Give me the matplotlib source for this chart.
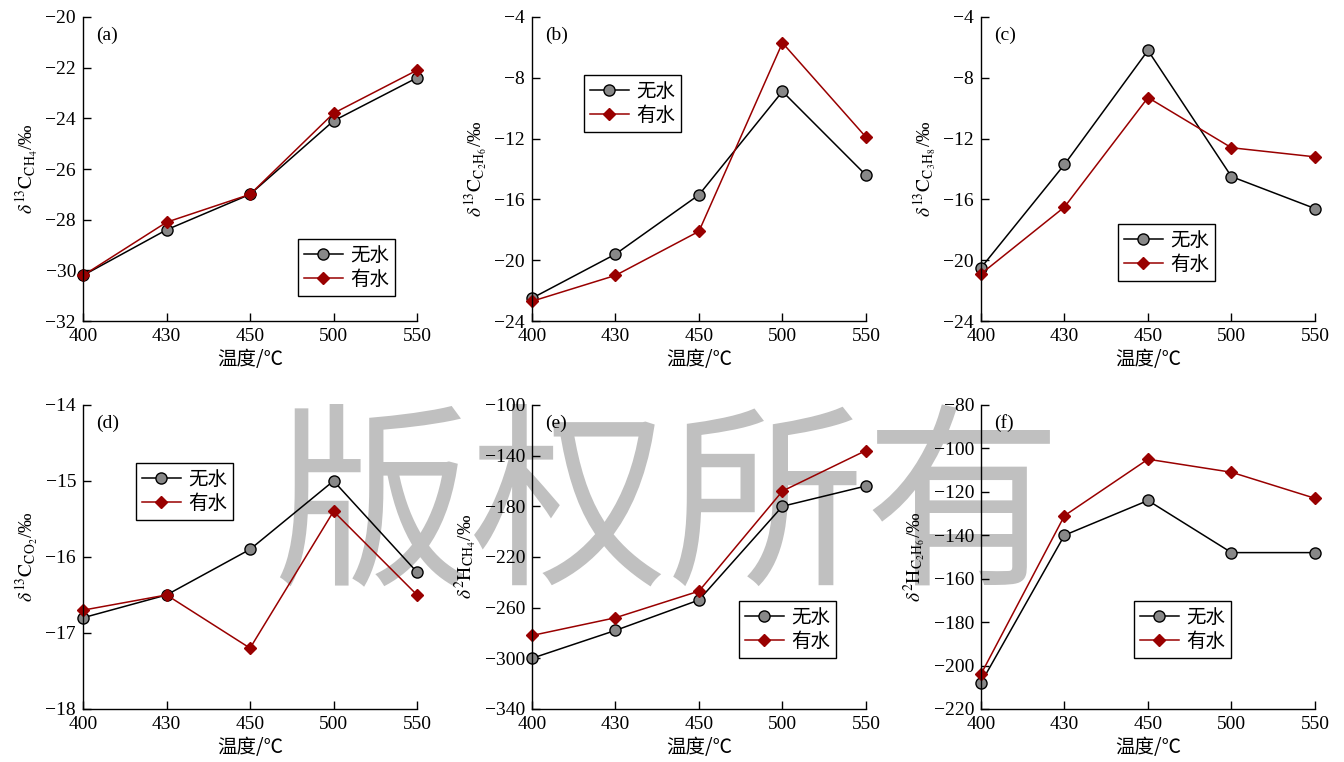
import numpy as np
import matplotlib.pyplot as plt

# -------------------------------
# DATA
# -------------------------------
temps = ['400', '430', '450', '500', '550']

a_dry = [-30.2, -28.4, -27.0, -24.1, -22.4]
a_wet = [-30.2, -28.1, -27.0, -23.8, -22.1]

b_dry = [-22.5, -19.6, -15.7, -8.9, -14.4]
b_wet = [-22.7, -21.0, -18.1, -5.7, -11.9]

c_dry = [-20.5, -13.7, -6.2, -14.5, -16.6]
c_wet = [-20.9, -16.5, -9.3, -12.6, -13.2]

d_dry = [-16.8, -16.5, -15.9, -15.0, -16.2]
d_wet = [-16.7, -16.5, -17.2, -15.4, -16.5]

e_dry = [-300, -278, -254, -180, -164]
e_wet = [-282, -268, -247, -168, -136]

f_dry = [-208, -140, -124, -148, -148]
f_wet = [-204, -131, -105, -111, -123]

ylabels = [
    r'$\delta^{13}\mathrm{C}_{\mathrm{CH_4}}$/‰',
    r'$\delta^{13}\mathrm{C}_{\mathrm{C_2H_6}}$/‰',
    r'$\delta^{13}\mathrm{C}_{\mathrm{C_3H_8}}$/‰',
    r'$\delta^{13}\mathrm{C}_{\mathrm{CO_2}}$/‰',
    r'$\delta^{2}\mathrm{H}_{\mathrm{CH_4}}$/‰',
    r'$\delta^{2}\mathrm{H}_{\mathrm{C_2H_6}}$/‰',
]
panel_tags = ['(a)', '(b)', '(c)', '(d)', '(e)', '(f)']
dry_series = [a_dry, b_dry, c_dry, d_dry, e_dry, f_dry]
wet_series = [a_wet, b_wet, c_wet, d_wet, e_wet, f_wet]
ylims = [(-32, -20, 2), (-24, -4, 4), (-24, -4, 4), (-18, -14, 1), (-340, -100, 40), (-220, -80, 20)]
legend_pos = [(0.644, 0.27), (0.156, 0.809), (0.41, 0.319), (0.159, 0.809), (0.62, 0.355), (0.458, 0.355)]

# -------------------------------
# STYLE
# -------------------------------
plt.rcParams['font.family'] = ['Liberation Serif', 'Noto Sans CJK SC']
plt.rcParams['mathtext.fontset'] = 'stix'
plt.rcParams['axes.unicode_minus'] = True

fig = plt.figure(figsize=(13.44, 7.62), dpi=100)

# watermark behind everything
fig.text(0.497, 0.326, '版权所有', fontsize=142, color='#c0c0c0',
         family='Noto Sans CJK SC', ha='center', va='center', zorder=-5)

lefts = [0.0618, 0.3958, 0.7299]
bottoms = [0.5787, 0.0696]
w, h = 0.2485, 0.399

x = np.arange(len(temps))

for i in range(6):
    ax = fig.add_axes([lefts[i % 3], bottoms[i // 3], w, h])
    ax.patch.set_alpha(0)
    ax.plot(x, dry_series[i], color='black', lw=1.1, marker='o', ms=8,
            mfc='#888888', mec='black', mew=1.0, label='无水')
    ax.plot(x, wet_series[i], color='#990000', lw=1.1, marker='D', ms=6.5,
            mfc='#990000', mec='#990000', label='有水')
    lo, hi, step = ylims[i]
    ax.set_ylim(lo, hi)
    ax.set_yticks(np.arange(lo, hi + step / 2, step))
    ax.set_xlim(0, 4)
    ax.set_xticks(x)
    ax.set_xticklabels(temps)
    for s in ['top', 'right']:
        ax.spines[s].set_visible(False)
    for s in ['left', 'bottom']:
        ax.spines[s].set_linewidth(1.0)
    ax.tick_params(direction='in', length=6, width=1.0, labelsize=14, pad=5)
    for ln in ax.lines:
        ln.set_clip_on(False)
    ax.set_xlabel('温度/℃', fontsize=14, family=['Noto Sans CJK SC'], labelpad=3)
    ax.set_ylabel(ylabels[i], fontsize=14, labelpad=4)
    ax.text(0.04, 0.94, panel_tags[i], transform=ax.transAxes, fontsize=14,
            ha='left', va='center')
    leg = ax.legend(loc='upper left', bbox_to_anchor=legend_pos[i], borderaxespad=0,
                    fancybox=False, edgecolor='black', framealpha=1,
                    prop={'family': 'Noto Sans CJK SC', 'size': 14},
                    handlelength=2.0, handletextpad=0.4, borderpad=0.3,
                    labelspacing=0.15)
    leg.get_frame().set_linewidth(1.0)

fig.savefig('out.png', dpi=100)
